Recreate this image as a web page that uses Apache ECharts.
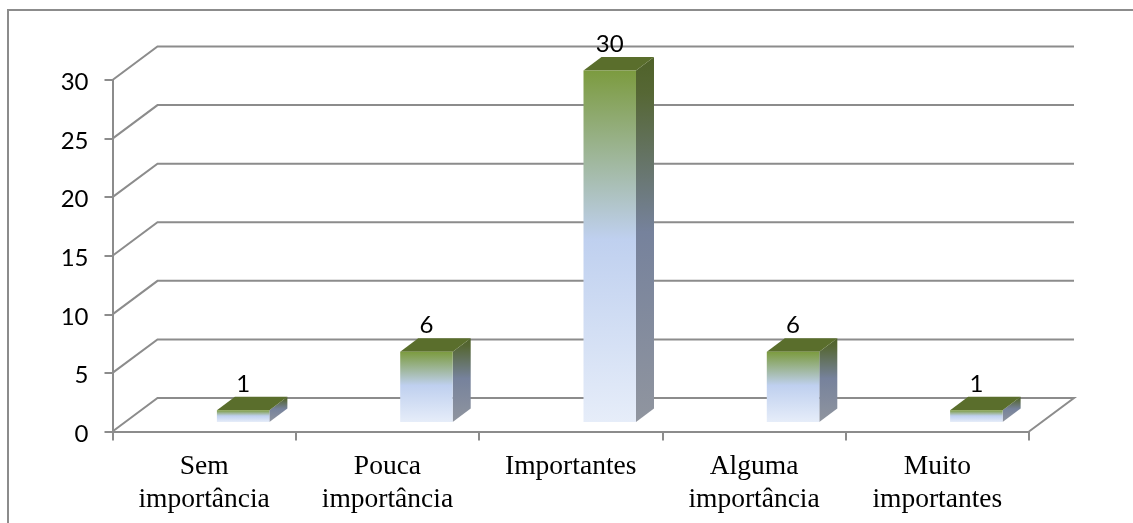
<!DOCTYPE html>
<html>
<head>
<meta charset="utf-8">
<style>html,body{margin:0;padding:0;background:#fff}#chart{width:1133px;height:523px}</style>
<script src="https://cdn.jsdelivr.net/npm/echarts@6/dist/echarts.min.js"></script>
</head>
<body>
<div id="chart"></div>
<script>
// Survey answers per importance level
const categories = ['Sem\nimportância', 'Pouca\nimportância', 'Importantes', 'Alguma\nimportância', 'Muito\nimportantes'];
const counts = [1, 6, 30, 6, 1];
const wallTicks = [0, 5, 10, 15, 20, 25, 30];

// Pseudo-3D projection constants, in pixels
const WALL_DX = 45, WALL_DY = -33.5;
const BAR_DX = 39, BAR_DY = -9.5, BAR_W = 52.5;
const SIDE_DX = 18, SIDE_DY = -13.5;
const LINE = '#8c8c8c';

const vGrad = (stops) => new echarts.graphic.LinearGradient(0, 0, 0, 1,
  stops.map(([offset, color]) => ({ offset, color })));

const chart = echarts.init(document.getElementById('chart'), null, { renderer: 'canvas' });

function renderWall(params, api) {
  const cs = params.coordSys;
  const y = api.coord([0, api.value(1)])[1];
  const pts = [[cs.x, y], [cs.x + WALL_DX, y + WALL_DY], [cs.x + cs.width + WALL_DX, y + WALL_DY]];
  // the floor closes back to the front axis on the right
  if (api.value(1) === 0) pts.push([cs.x + cs.width, y]);
  return { type: 'polyline', shape: { points: pts }, style: { stroke: LINE, lineWidth: 2, fill: null } };
}

function renderBar(params, api) {
  const value = api.value(1);
  const cx = api.coord([api.value(0), 0])[0] + BAR_DX;
  const base = api.coord([0, 0])[1] + BAR_DY;
  const top = api.coord([0, value])[1] + BAR_DY;
  const l = cx - BAR_W / 2, r = cx + BAR_W / 2;
  return {
    type: 'group',
    children: [
      { type: 'polygon', shape: { points: [[r, top], [r + SIDE_DX, top + SIDE_DY], [r + SIDE_DX, base + SIDE_DY], [r, base]] },
        style: { fill: vGrad([[0, '#4f6229'], [0.1, '#566735'], [0.48, '#76829c'], [1, '#90959f']]) } },
      { type: 'polygon', shape: { points: [[l, top], [l + SIDE_DX, top + SIDE_DY], [r + SIDE_DX, top + SIDE_DY], [r, top]] },
        style: { fill: '#5a6e2c' } },
      { type: 'rect', shape: { x: l, y: top, width: BAR_W, height: base - top },
        style: { fill: vGrad([[0, '#7c9b3f'], [0.48, '#bfd0ef'], [1, '#e6edf9']]) } },
      { type: 'text', style: { text: String(value), x: cx, y: top + SIDE_DY - 13, align: 'center', verticalAlign: 'middle',
        fill: '#000', font: '24px Lato' } }
    ]
  };
}

chart.setOption({
  animation: false,
  backgroundColor: '#fff',
  grid: { left: 112.5, top: 80, width: 916.5, height: 351.5 },
  xAxis: {
    type: 'category',
    data: categories,
    axisLine: { lineStyle: { color: LINE, width: 2 } },
    axisTick: { show: true, alignWithLabel: false, length: 9, lineStyle: { color: LINE, width: 2 } },
    axisLabel: { color: '#000', fontFamily: 'Liberation Serif', fontSize: 27.5, lineHeight: 33, margin: 19, interval: 0 }
  },
  yAxis: {
    type: 'value', min: 0, max: 30, interval: 5,
    splitLine: { show: false },
    axisLine: { show: true, lineStyle: { color: LINE, width: 2 } },
    axisTick: { show: true, length: 8, lineStyle: { color: LINE, width: 2 } },
    axisLabel: { color: '#000', fontFamily: 'Lato', fontSize: 24, margin: 24, verticalAlign: 'top', lineHeight: 5 }
  },
  graphic: [
    { type: 'polyline', silent: true, z: 0,
      shape: { points: [[8, 523], [8, 10], [1133, 10]] },
      style: { stroke: LINE, lineWidth: 2, fill: null } }
  ],
  series: [
    { type: 'custom', z: 1, silent: true, renderItem: renderWall, data: wallTicks.map(v => [0, v]) },
    { type: 'custom', z: 3, silent: true, renderItem: renderBar, data: counts.map((v, i) => [i, v]) }
  ]
});
</script>
</body>
</html>
